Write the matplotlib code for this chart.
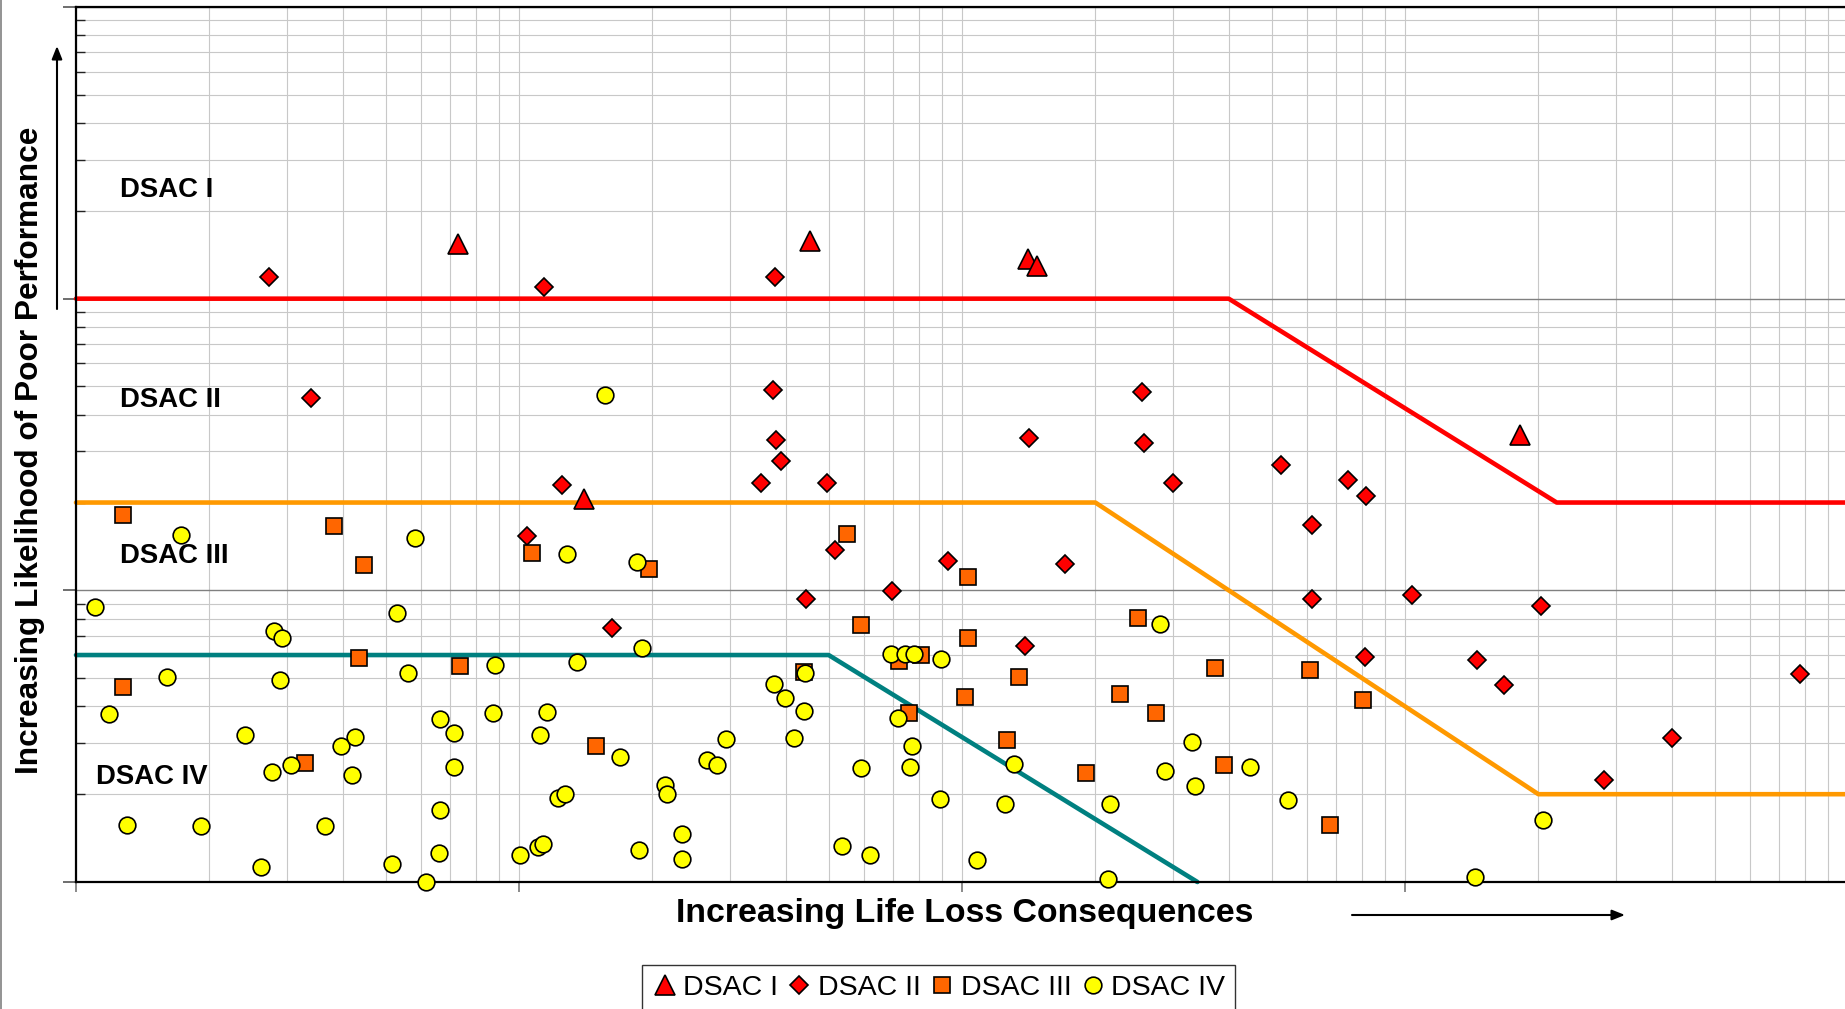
import matplotlib
matplotlib.use("Agg")
import matplotlib.pyplot as plt
from matplotlib.ticker import LogLocator, NullFormatter
from matplotlib.lines import Line2D

plt.rcParams['font.family'] = ['Liberation Sans', 'DejaVu Sans']

# ---------------- data (arbitrary log units) ----------------
series_names = ["DSAC I", "DSAC II", "DSAC III", "DSAC IV"]

dsac1_x = [7.27, 45.5, 141, 148, 1820, 14.0]
dsac1_y = [154.5, 157.4, 136.9, 129.5, 34.0, 20.6]

dsac2_x = [2.72, 11.4, 37.9, 3.40, 37.4, 38.1, 39.1, 35.2, 49.6, 12.5,
           255.5, 142, 257, 299.6, 526, 745, 817, 617, 10.4, 51.8,
           93.2, 171, 44.4, 69.4, 16.2, 138.6, 617, 1037, 2032, 812,
           1451, 1671, 7802, 4006, 2810]
dsac2_y = [119, 109.6, 119, 45.7, 48.8, 32.7, 27.7, 23.4, 23.4, 23.0,
           47.9, 33.4, 32.1, 23.4, 26.9, 23.9, 21.0, 16.8, 15.4, 13.7,
           12.6, 12.35, 9.35, 9.97, 7.41, 6.44, 9.35, 9.61, 8.84, 5.93,
           5.77, 4.74, 5.16, 3.12, 2.23]

dsac3_x = [1.28, 3.83, 4.46, 10.7, 19.7, 55.1, 103.3, 1.28, 4.35, 7.36,
           3.28, 14.9, 59.2, 43.9, 72.0, 80.9, 76.1, 103.3, 101.5, 134.5,
           126.5, 190.5, 249.4, 227.5, 273.4, 373.3, 389.6, 609, 802, 676]
dsac3_y = [18.07, 16.6, 12.2, 13.4, 11.8, 15.6, 11.15, 4.66, 5.87, 5.50,
           2.55, 2.93, 7.62, 5.25, 5.71, 5.98, 3.80, 6.88, 4.32, 5.06,
           3.07, 2.36, 8.05, 4.40, 3.80, 5.40, 2.52, 5.35, 4.20, 1.57]

dsac4_x = [1.106, 1.728, 5.834, 5.291, 2.801, 2.924, 12.84, 18.42, 15.62, 18.99,
           13.49, 8.844, 5.625, 1.606, 2.888, 1.190, 2.404, 3.969, 4.271, 2.767,
           3.052, 4.194, 1.304, 1.917, 3.644, 2.619, 5.164, 6.635, 7.14, 7.14,
           6.635, 8.736, 11.57, 11.16, 12.23, 12.69, 16.91, 6.593, 6.165, 10.06,
           11.05, 11.35, 18.65, 21.34, 21.6, 23.38, 23.38, 26.59, 27.93, 29.32,
           37.68, 39.81, 43.9, 44.18, 41.8, 53.72, 61.84, 59.24, 69.02, 74.29,
           78.02, 89.8, 71.61, 77.07, 76.12, 89.25, 107.9, 124.9, 131.2, 215.3,
           214.0, 280.1, 287.0, 330.4, 336.5, 445.8, 545.6, 1442, 2044]
dsac4_y = [8.757, 15.43, 15.15, 8.359, 7.27, 6.877, 13.30, 12.46, 46.6, 6.326,
           5.658, 5.555, 5.205, 5.062, 4.923, 3.76, 3.181, 2.926, 3.152, 2.386,
           2.522, 2.32, 1.57, 1.556, 1.556, 1.124, 1.156, 3.623, 3.244, 2.476,
           1.772, 3.796, 3.831, 3.181, 1.945, 2.0, 2.692, 1.257, 1.0, 1.234,
           1.32, 1.345, 1.292, 2.154, 2.0, 1.458, 1.2, 2.617, 2.522, 3.094,
           4.787, 4.283, 3.867, 5.205, 3.123, 1.329, 1.234, 2.453, 6.039, 6.039,
           6.039, 5.818, 3.657, 2.926, 2.476, 1.927, 1.189, 1.857, 2.546, 1.857,
           1.024, 7.688, 2.407, 3.009, 2.134, 2.476, 1.909, 1.044, 1.63]

# threshold boundaries
red_x = [1, 400, 2200, 10000]
red_y = [100, 100, 20, 20]
orange_x = [1, 200, 2000, 10000]
orange_y = [20, 20, 2, 2]
teal_x = [1, 50, 340]
teal_y = [6, 6, 1]

# ---------------- figure ----------------
W, H = 1845, 1009
fig = plt.figure(figsize=(W / 100, H / 100), dpi=100)
ax = fig.add_axes([76 / W, 127 / H, (1848 - 76) / W, (882 - 7) / H])
ax.set_xscale('log')
ax.set_yscale('log')
ax.set_xlim(1, 1e4)
ax.set_ylim(1, 1000)

ax.xaxis.set_major_locator(LogLocator(base=10, numticks=10))
ax.xaxis.set_minor_locator(LogLocator(base=10, subs=range(2, 10), numticks=50))
ax.yaxis.set_major_locator(LogLocator(base=10, numticks=10))
ax.yaxis.set_minor_locator(LogLocator(base=10, subs=range(2, 10), numticks=50))
for a in (ax.xaxis, ax.yaxis):
    a.set_major_formatter(NullFormatter())
    a.set_minor_formatter(NullFormatter())

ax.set_axisbelow(True)
ax.grid(which='minor', axis='both', color='#c8c8c8', lw=0.8)
ax.grid(which='major', axis='x', color='#c8c8c8', lw=0.8)
ax.grid(which='major', axis='y', color='#808080', lw=1.0)

for side in ('left', 'top', 'bottom'):
    ax.spines[side].set_linewidth(1.6)
    ax.spines[side].set_color('black')
ax.spines['right'].set_visible(False)

ax.tick_params(axis='y', which='major', direction='out', length=9.5, width=1.2, color='#555555')
ax.tick_params(axis='y', which='minor', direction='in', length=6.7, width=1.0, color='#222222')
ax.tick_params(axis='x', which='major', direction='out', length=7.5, width=1.2, color='#777777')
ax.tick_params(axis='x', which='minor', length=0)

# boundary lines
line_kw = dict(lw=3.3, solid_capstyle='round', solid_joinstyle='round', zorder=2, clip_on=False)
ax.plot(red_x, red_y, color='#ff0000', **line_kw)
ax.plot(orange_x, orange_y, color='#ff9900', **line_kw)
ax.plot(teal_x, teal_y, color='#008080', **line_kw)

styles = [
    dict(marker='^', ms=15.0, mfc='#ff0000'),
    dict(marker='D', ms=9.5, mfc='#ff0000'),
    dict(marker='s', ms=11.8, mfc='#ff6600'),
    dict(marker='o', ms=12.0, mfc='#ffff00'),
]
xs = [dsac1_x, dsac2_x, dsac3_x, dsac4_x]
ys = [dsac1_y, dsac2_y, dsac3_y, dsac4_y]
handles = []
for i, (name, st) in enumerate(zip(series_names, styles)):
    ax.plot(xs[i], ys[i], ls='none', mec='black', mew=1.2, zorder=3 + i, clip_on=False, **st)
    handles.append(Line2D([], [], ls='none', mec='black', mew=1.2, label=name, **st))

# region labels
lab_kw = dict(transform=ax.transAxes, fontsize=19.8, fontweight='bold', ha='left', va='baseline')
ax.text(0.0248, 0.783, 'DSAC I', **lab_kw)
ax.text(0.0248, 0.5423, 'DSAC II', **lab_kw)
ax.text(0.0248, 0.3651, 'DSAC III', **lab_kw)
ax.text(0.0113, 0.112, 'DSAC IV', **lab_kw)

# axis titles
fig.text(38 / W, 1 - 450.5 / H, 'Increasing Likelihood of Poor Performance', rotation=90,
         rotation_mode='anchor', ha='center', va='baseline', fontsize=22.8, fontweight='bold')
fig.text(964.5 / W, 1 - 922 / H, 'Increasing Life Loss Consequences',
         ha='center', va='baseline', fontsize=24.4, fontweight='bold')

# arrows
arr = dict(arrowstyle='-|>,head_length=0.55,head_width=0.22', color='black', lw=1.5,
           mutation_scale=14, shrinkA=0, shrinkB=0)
fig.add_artist(matplotlib.patches.FancyArrowPatch((57 / W, 1 - 309 / H), (57 / W, 1 - 46 / H),
                                                  transform=fig.transFigure, **arr))
fig.add_artist(matplotlib.patches.FancyArrowPatch((1352 / W, 1 - 915 / H), (1625 / W, 1 - 915 / H),
                                                  transform=fig.transFigure, **arr))

# legend
leg = fig.legend(handles=handles, loc='upper center', bbox_to_anchor=(938.5 / W, 1 - 965 / H),
                 ncol=4, fontsize=20.5, frameon=True, fancybox=False, edgecolor='black',
                 handlelength=0.9, handletextpad=0.2, columnspacing=0.3, borderpad=0.35,
                 borderaxespad=0)
leg.get_frame().set_linewidth(1.0)

# left border of the image
fig.add_artist(Line2D([0.0006, 0.0006], [0, 1], color='#808080', lw=1.2, transform=fig.transFigure))

fig.savefig('out.png', dpi=100)
